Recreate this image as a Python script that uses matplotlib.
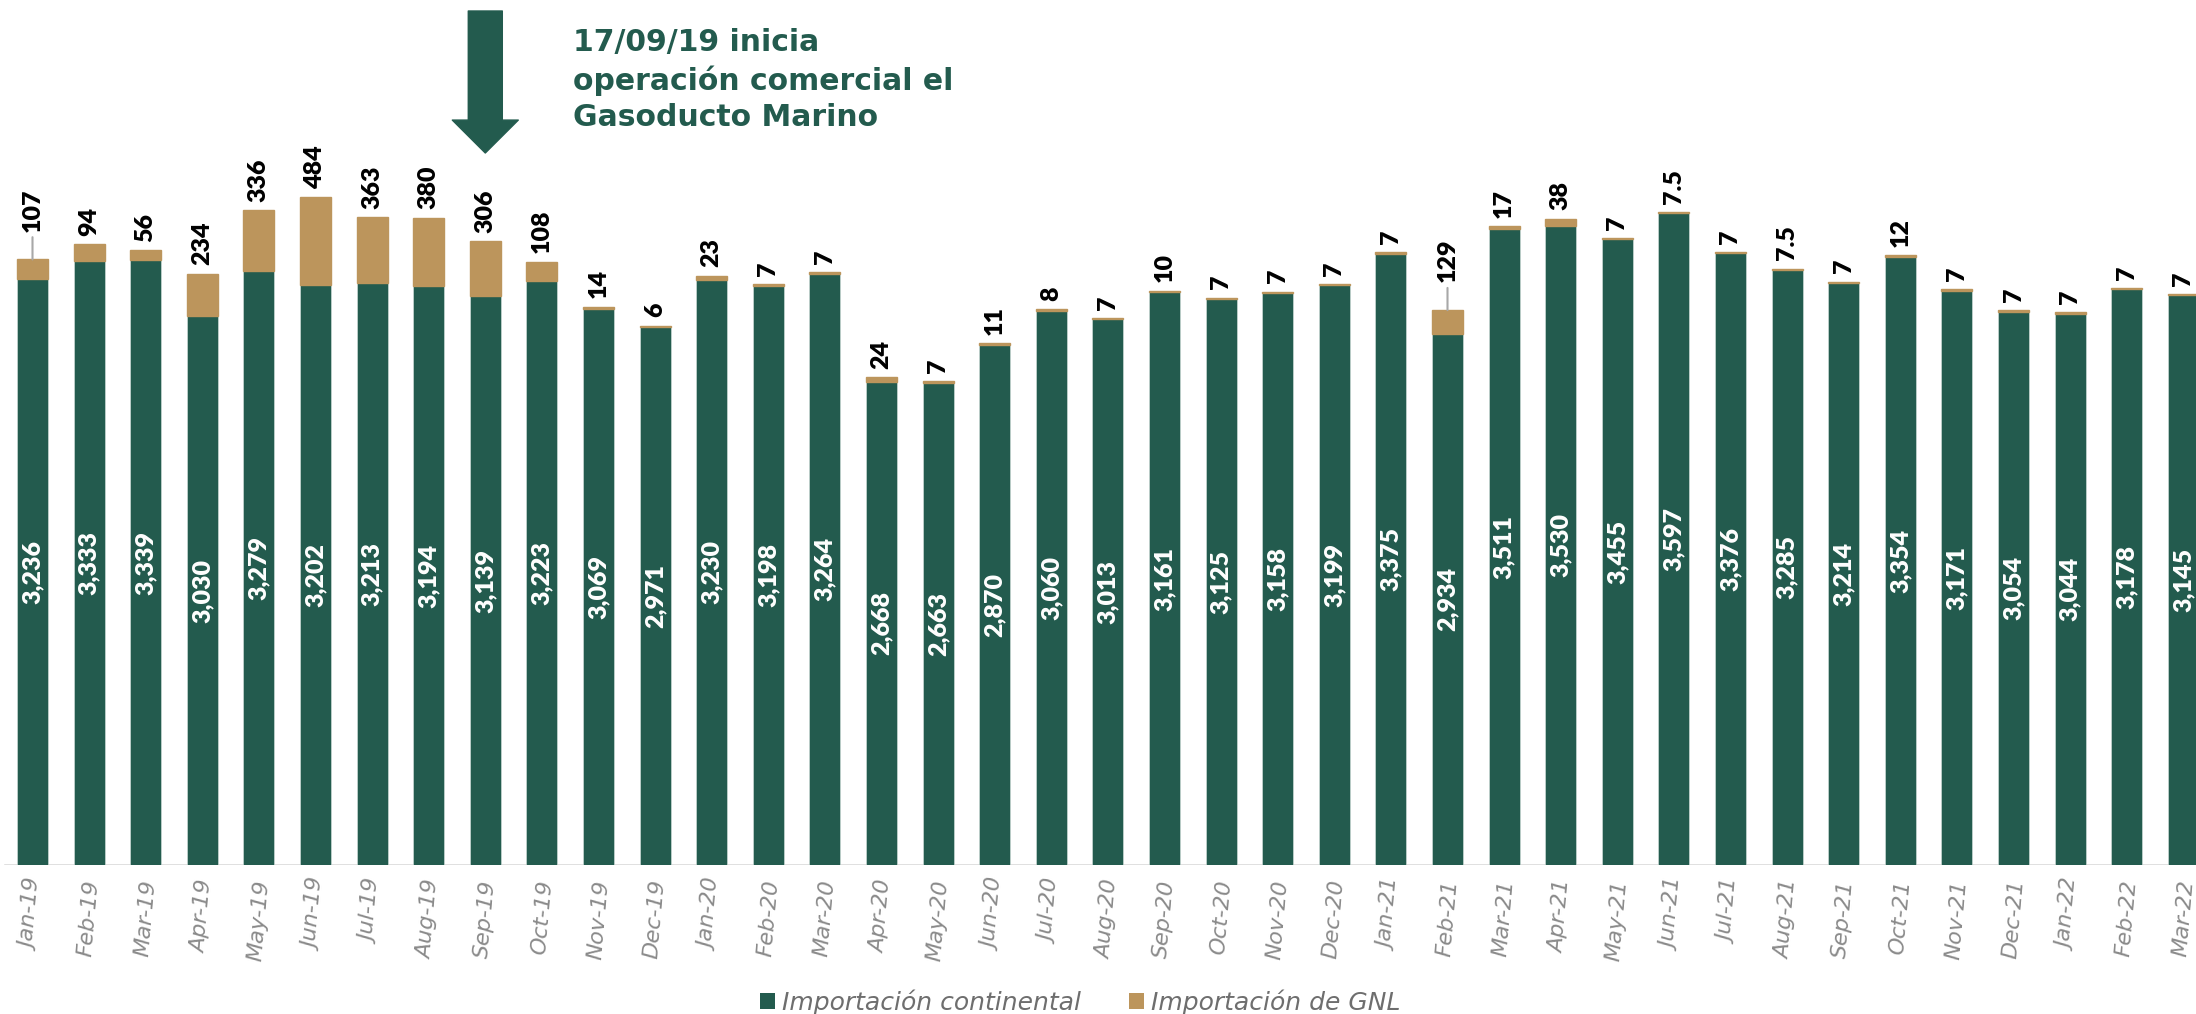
import matplotlib
matplotlib.use("Agg")
import matplotlib.pyplot as plt
from matplotlib.patches import Patch
import numpy as np

months = ["Jan-19", "Feb-19", "Mar-19", "Apr-19", "May-19", "Jun-19", "Jul-19", "Aug-19",
          "Sep-19", "Oct-19", "Nov-19", "Dec-19", "Jan-20", "Feb-20", "Mar-20", "Apr-20",
          "May-20", "Jun-20", "Jul-20", "Aug-20", "Sep-20", "Oct-20", "Nov-20", "Dec-20",
          "Jan-21", "Feb-21", "Mar-21", "Apr-21", "May-21", "Jun-21", "Jul-21", "Aug-21",
          "Sep-21", "Oct-21", "Nov-21", "Dec-21", "Jan-22", "Feb-22", "Mar-22"]
continental = [3236, 3333, 3339, 3030, 3279, 3202, 3213, 3194, 3139, 3223, 3069, 2971,
               3230, 3198, 3264, 2668, 2663, 2870, 3060, 3013, 3161, 3125, 3158, 3199,
               3375, 2934, 3511, 3530, 3455, 3597, 3376, 3285, 3214, 3354, 3171, 3054,
               3044, 3178, 3145]
gnl = [107, 94, 56, 234, 336, 484, 363, 380, 306, 108, 14, 6,
       23, 7, 7, 24, 7, 11, 8, 7, 10, 7, 7, 7,
       7, 129, 17, 38, 7, 7.5, 7, 7.5, 7, 12, 7, 7,
       7, 7, 7]
leader_months = ["Jan-19", "Feb-21"]
event_month = "Sep-19"
event_text = "17/09/19 inicia\noperación comercial el\nGasoducto Marino"
series_names = ["Importación continental", "Importación de GNL"]

GREEN = "#235B4E"
TAN = "#BC955C"

plt.rcParams["font.family"] = ["Lato", "DejaVu Sans"]

W, H = 2196, 1014
fig = plt.figure(figsize=(W / 100, H / 100), dpi=100)
base_px = 865
ax = fig.add_axes([0, 1 - base_px / H, 1, base_px / H])
ax.set_facecolor("none")

step = 56.6
x0 = 32.5
x = np.arange(len(months))
ax.set_xlim(-x0 / step, -x0 / step + W / step)
ax.set_ylim(0, 4775)
bw = 31 / step

ax.bar(x, continental, bw, color=GREEN, edgecolor="#d8e4e0", linewidth=0.4, zorder=3)
ax.bar(x, gnl, bw, bottom=continental, color=TAN, edgecolor=TAN, linewidth=1.0, zorder=3)

for s in ax.spines.values():
    s.set_visible(False)
ax.axhline(0, xmin=5 / W, xmax=1, color="#d6d6d6", lw=1.8, zorder=2)

ax.set_yticks([])
ax.set_xticks(x)
ax.set_xticklabels(months, rotation=85, ha="center", va="top", fontstyle="italic",
                   fontweight="normal", color="#8a8a8a", fontsize=16, family="DejaVu Sans")
ax.tick_params(axis="x", length=0, pad=10)

for i, (c, g) in enumerate(zip(continental, gnl)):
    ax.text(i, c / 2, f"{c:,}", rotation=90, ha="center", va="center", color="white",
            fontweight="heavy", fontsize=18, zorder=4, clip_on=False)
    lab = f"{g:g}"
    if months[i] in leader_months:
        ax.annotate(lab, xy=(i, c + g), xytext=(0, 20), textcoords="offset points",
                    rotation=90, ha="center", va="bottom", fontweight="heavy", fontsize=18,
                    color="black", annotation_clip=False,
                    arrowprops=dict(arrowstyle="-", color="#a8a8a8", lw=1.5,
                                    shrinkA=2, shrinkB=0))
    else:
        ax.annotate(lab, xy=(i, c + g), xytext=(0, 6), textcoords="offset points",
                    rotation=90, ha="center", va="bottom", fontweight="heavy", fontsize=18,
                    color="black", annotation_clip=False)

ei = months.index(event_month)
ax.annotate("", xy=(ei, 1 - 153 / base_px), xycoords=("data", "axes fraction"),
            xytext=(ei, 1 - 11 / base_px), textcoords=("data", "axes fraction"),
            arrowprops=dict(arrowstyle="simple,head_length=2.37,head_width=4.75,tail_width=2.45",
                            color=GREEN, shrinkA=0, shrinkB=0, mutation_scale=10),
            annotation_clip=False)
ax.text((573 - x0) / step, 1 - 28 / base_px, event_text, transform=ax.get_xaxis_transform(),
        ha="left", va="top", fontsize=21.5, fontweight="bold", color=GREEN, linespacing=1.33,
        family="DejaVu Sans")

handles = [Patch(facecolor=GREEN), Patch(facecolor=TAN)]
fig.legend(handles, series_names, loc="center", bbox_to_anchor=(0.492, 0.012), ncol=2,
           frameon=False, prop=dict(family="DejaVu Sans", style="italic", size=18),
           labelcolor="#6e6e6e", handlelength=0.6, handleheight=0.6,
           handletextpad=0.3, columnspacing=1.9, borderpad=0, borderaxespad=0)

fig.savefig("out.png", dpi=100, facecolor="white")
